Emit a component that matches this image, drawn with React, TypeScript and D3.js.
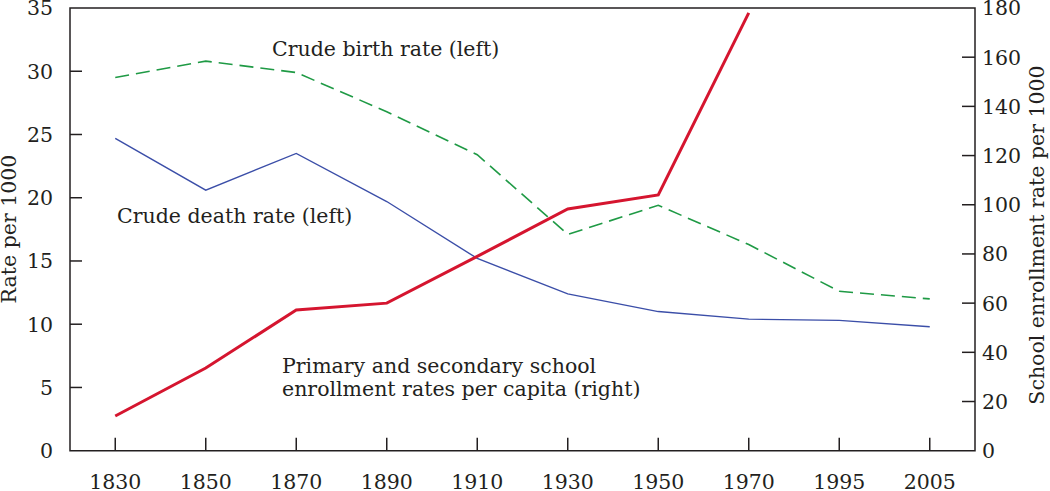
import React from "react";
import * as d3 from "d3";

const years = ["1830", "1850", "1870", "1890", "1910", "1930", "1950", "1970", "1995", "2005"];
const birthRate = [29.5, 30.8, 29.9, 26.8, 23.4, 17.1, 19.4, 16.3, 12.6, 12.0];
const deathRate = [24.7, 20.6, 23.5, 19.7, 15.2, 12.4, 11.0, 10.4, 10.3, 9.8];
const enrollment: (number | null)[] = [14.1, 33.6, 57.2, 60.0, 79.0, 98.3, 104.0, 178.0, null, null];
const leftTicks = [0, 5, 10, 15, 20, 25, 30, 35];
const rightTicks = [0, 20, 40, 60, 80, 100, 120, 140, 160, 180];

const W = 1050;
const H = 491;
const L = 70;
const R = 975;
const T = 8;
const B = 450.7;
const FONT = "'DejaVu Serif', serif";
const FS = 20.5;
const INK = "#231f20";

export default function App() {
  const x = d3.scalePoint<string>().domain(years).range([L, R]).padding(0.5);
  const yL = d3.scaleLinear().domain([0, 35]).range([B, T]);
  const yR = d3.scaleLinear().domain([0, 180]).range([B, T]);

  const lineL = d3
    .line<number>()
    .x((_, i) => x(years[i]) as number)
    .y((d) => yL(d));
  const lineR = d3
    .line<number | null>()
    .defined((d) => d != null)
    .x((_, i) => x(years[i]) as number)
    .y((d) => yR(d as number));

  return (
    <svg
      width={W}
      height={H}
      style={{ position: "absolute", left: 0, top: 0, background: "#fff" }}
      fontFamily={FONT}
    >
      <rect x={0} y={0} width={W} height={H} fill="#fff" />
      {/* frame */}
      <path
        d={`M${L},${T}H${R}V${B}H${L}Z`}
        fill="none"
        stroke={INK}
        strokeWidth={1.5}
      />
      {/* left ticks */}
      {leftTicks.map((t) => (
        <g key={"l" + t}>
          {t !== 35 && t !== 0 && (
            <line x1={L} x2={L + 12} y1={yL(t)} y2={yL(t)} stroke={INK} strokeWidth={1.5} />
          )}
          <text x={53} y={yL(t)} dy="0.36em" textAnchor="end" fontSize={FS} fill={INK}>
            {t}
          </text>
        </g>
      ))}
      {/* right ticks */}
      {rightTicks.map((t) => (
        <g key={"r" + t}>
          {t !== 180 && t !== 0 && (
            <line x1={R - 13} x2={R} y1={yR(t)} y2={yR(t)} stroke={INK} strokeWidth={1.5} />
          )}
          <text x={982} y={yR(t)} dy="0.36em" textAnchor="start" fontSize={FS} fill={INK}>
            {t}
          </text>
        </g>
      ))}
      {/* x ticks */}
      {years.map((yr) => (
        <g key={yr}>
          <line x1={x(yr)} x2={x(yr)} y1={B} y2={B - 13} stroke={INK} strokeWidth={1.5} />
          <text x={x(yr)} y={489} textAnchor="middle" fontSize={FS} fill={INK}>
            {yr}
          </text>
        </g>
      ))}
      {/* axis titles */}
      <text
        transform={`translate(16,229) rotate(-90)`}
        textAnchor="middle"
        fontSize={FS}
        fill={INK}
      >
        Rate per 1000
      </text>
      <text
        transform={`translate(1044,235) rotate(-90)`}
        textAnchor="middle"
        fontSize={FS}
        fill={INK}
      >
        School enrollment rate per 1000
      </text>
      {/* series */}
      <path
        d={lineL(birthRate) || ""}
        fill="none"
        stroke="#1f9a45"
        strokeWidth={1.6}
        strokeDasharray="14,7"
      />
      <path d={lineL(deathRate) || ""} fill="none" stroke="#3b4ea8" strokeWidth={1.4} />
      <path d={lineR(enrollment) || ""} fill="none" stroke="#d5152f" strokeWidth={3} />
      {/* labels */}
      <text x={272} y={56} fontSize={FS} fill={INK}>
        Crude birth rate (left)
      </text>
      <text x={117} y={223} fontSize={FS} fill={INK}>
        Crude death rate (left)
      </text>
      <text x={282} y={373} fontSize={FS} fill={INK}>
        Primary and secondary school
      </text>
      <text x={282} y={396} fontSize={FS} fill={INK}>
        enrollment rates per capita (right)
      </text>
    </svg>
  );
}
